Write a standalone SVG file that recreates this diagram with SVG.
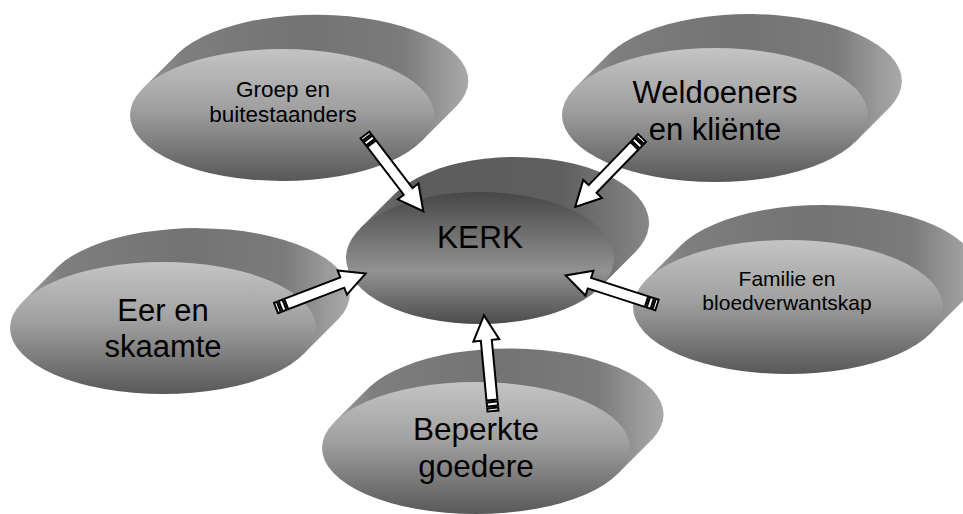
<svg xmlns="http://www.w3.org/2000/svg" xmlns:xlink="http://www.w3.org/1999/xlink" width="963" height="514" viewBox="0 0 963 514">
  <defs>
    <!-- extruded side of the outer discs -->
    <linearGradient id="sideOuter" x1="0" y1="0" x2="1" y2="0">
      <stop offset="0" stop-color="#9c9c9c"/>
      <stop offset="0.12" stop-color="#7e7e7e"/>
      <stop offset="0.5" stop-color="#737373"/>
      <stop offset="0.8" stop-color="#7b7b7b"/>
      <stop offset="0.93" stop-color="#9a9a9a"/>
      <stop offset="1" stop-color="#a9a9a9"/>
    </linearGradient>
    <!-- front face of the outer discs -->
    <linearGradient id="faceOuter" x1="0" y1="0" x2="0" y2="1">
      <stop offset="0" stop-color="#c4c4c4"/>
      <stop offset="0.45" stop-color="#a0a0a0"/>
      <stop offset="1" stop-color="#585858"/>
    </linearGradient>
    <!-- centre disc -->
    <linearGradient id="sideCentre" x1="0" y1="0" x2="1" y2="0">
      <stop offset="0" stop-color="#707070"/>
      <stop offset="0.2" stop-color="#5c5c5c"/>
      <stop offset="0.7" stop-color="#5f5f5f"/>
      <stop offset="1" stop-color="#878787"/>
    </linearGradient>
    <linearGradient id="faceCentre" x1="0" y1="0" x2="0" y2="1">
      <stop offset="0" stop-color="#474747"/>
      <stop offset="0.6" stop-color="#929292"/>
      <stop offset="1" stop-color="#4c4c4c"/>
    </linearGradient>

    <!-- striped block arrow, tail at origin, pointing along +x -->
    <g id="stripedArrow" class="arrow">
      <rect x="0" y="-5.5" width="3" height="11"/>
      <rect x="5" y="-5.5" width="4" height="11"/>
      <polygon points="11,-5.5 71,-5.5 71,-13 96,0 71,13 71,5.5 11,5.5"/>
    </g>
  </defs>

  <style>
    .side-outer { fill: url(#sideOuter); }
    .face-outer { fill: url(#faceOuter); }
    .side-centre { fill: url(#sideCentre); }
    .face-centre { fill: url(#faceCentre); }
    text { font-family: "Liberation Sans", Arial, sans-serif; fill: #000; text-anchor: middle; }
    .arrow rect, .arrow polygon { fill: #fff; stroke: #000; stroke-width: 2; stroke-linejoin: miter; }
  </style>

  <rect width="963" height="514" fill="#fff"/>

  <g id="node-groep">
    <path class="side-outer" d="M142.6,88.7 L177.6,53.7 A152,66 0 0 1 456.4,106.3 L421.4,141.3 Z"/>
    <ellipse class="face-outer" cx="282" cy="115" rx="152" ry="66"/>
    <text x="283" y="97" font-size="22.5">Groep en</text>
    <text x="283" y="122" font-size="22.5">buitestaanders</text>
  </g>

  <g id="node-weldoeners">
    <path class="side-outer" d="M574.9,88.1 L609.9,53.1 A153,67 0 0 1 890.1,106.9 L855.1,141.9 Z"/>
    <ellipse class="face-outer" cx="715" cy="115" rx="153" ry="67"/>
    <text x="715" y="103" font-size="31">Weldoeners</text>
    <text x="715" y="140" font-size="31">en kliënte</text>
  </g>

  <g id="node-eer">
    <path class="side-outer" d="M22.5,301.9 L57.5,266.9 A153,66 0 0 1 338.5,319.1 L303.5,354.1 Z"/>
    <ellipse class="face-outer" cx="163" cy="328" rx="153" ry="66"/>
    <text x="163" y="321" font-size="31">Eer en</text>
    <text x="163" y="357" font-size="31">skaamte</text>
  </g>

  <g id="node-familie">
    <path class="side-outer" d="M645.7,280.4 L680.7,245.4 A155,67 0 0 1 965.3,298.6 L930.3,333.6 Z"/>
    <ellipse class="face-outer" cx="788" cy="307" rx="155" ry="67"/>
    <text x="787" y="286" font-size="21">Familie en</text>
    <text x="787" y="310" font-size="21">bloedverwantskap</text>
  </g>

  <g id="node-beperkte">
    <path class="side-outer" d="M334.5,422 L369.5,387 A154,66 0 0 1 652.5,439 L617.5,474 Z"/>
    <ellipse class="face-outer" cx="476" cy="448" rx="154" ry="66"/>
    <text x="476" y="440" font-size="31.5">Beperkte</text>
    <text x="476" y="477" font-size="31.5">goedere</text>
  </g>

  <g id="node-kerk">
    <path class="side-centre" d="M359.8,228.8 L394.8,193.8 A134,66 0 0 1 635.2,252.2 L600.2,287.2 Z"/>
    <ellipse class="face-centre" cx="480" cy="258" rx="134" ry="66"/>
    <text x="480" y="248" font-size="31.5">KERK</text>
  </g>

  <g id="connectors">
    <use xlink:href="#stripedArrow" transform="translate(365,135) rotate(52.6)"/>
    <use xlink:href="#stripedArrow" transform="translate(642,138) rotate(134.1)"/>
    <use xlink:href="#stripedArrow" transform="translate(276,308) rotate(-21)"/>
    <use xlink:href="#stripedArrow" transform="translate(657,305) rotate(-162.1)"/>
    <use xlink:href="#stripedArrow" transform="translate(493,411) rotate(-95.4)"/>
  </g>
</svg>
